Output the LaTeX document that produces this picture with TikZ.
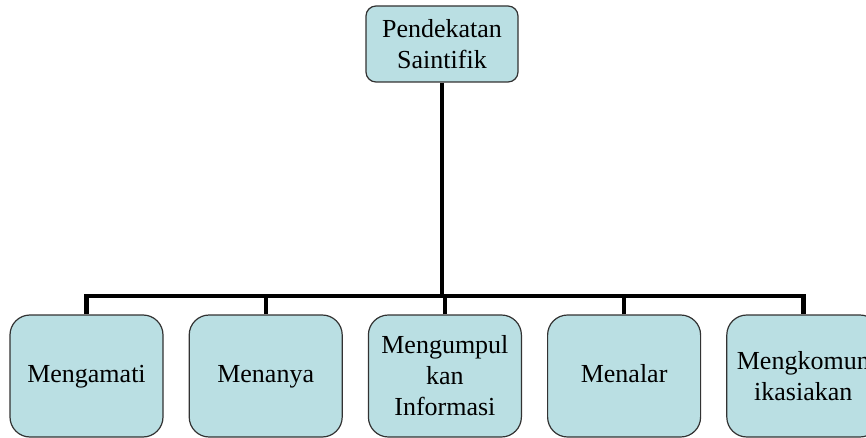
\documentclass[tikz,border=0pt]{standalone}
\usepackage{fontspec}
\setmainfont{Liberation Serif}
\usetikzlibrary{positioning}
\definecolor{boxcyan}{RGB}{186,223,227}
\definecolor{boxedge}{RGB}{50,50,50}

\begin{document}
\begin{tikzpicture}[x=0.5pt,y=-0.5pt,
  anode/.style={draw=boxedge,line width=0.6pt,fill=boxcyan,align=center,
    font=\fontsize{13}{15.5}\selectfont},
  topnode/.style={anode,minimum width=76pt,minimum height=38pt,rounded corners=5pt},
  subnode/.style={anode,minimum width=76.5pt,minimum height=61pt,rounded corners=10pt},
  oneline/.style={execute at begin node=\strut},
  conn/.style={line width=2.2pt}]

 \useasboundingbox (0,0) rectangle (866,438);

 \node[topnode] (top) at (442,44) {Pendekatan\\Saintifik};

 % the five steps
 \node[subnode,oneline] (box1) at (86.5,376) {Mengamati};
 \node[subnode,oneline,right=12.5pt of box1] (box2) {Menanya};
 \node[subnode,right=12.5pt of box2] (box3) {Mengumpul\\kan\\Informasi};
 \node[subnode,oneline,right=12.5pt of box3] (box4) {Menalar};
 \node[subnode,right=12.5pt of box4] (box5) {Mengkomun\\ikasiakan};

 % tree lines
 \coordinate (bar) at (0,296);
 \draw[conn] (top.south) -- (top.south |- bar);
 \draw[conn] (box1.north) |- (box5.north |- bar) -- (box5.north);
 \draw[conn] (box2.north) -- (box2.north |- bar)
  (box3.north) -- (box3.north |- bar)
  (box4.north) -- (box4.north |- bar);

\end{tikzpicture}
\end{document}
